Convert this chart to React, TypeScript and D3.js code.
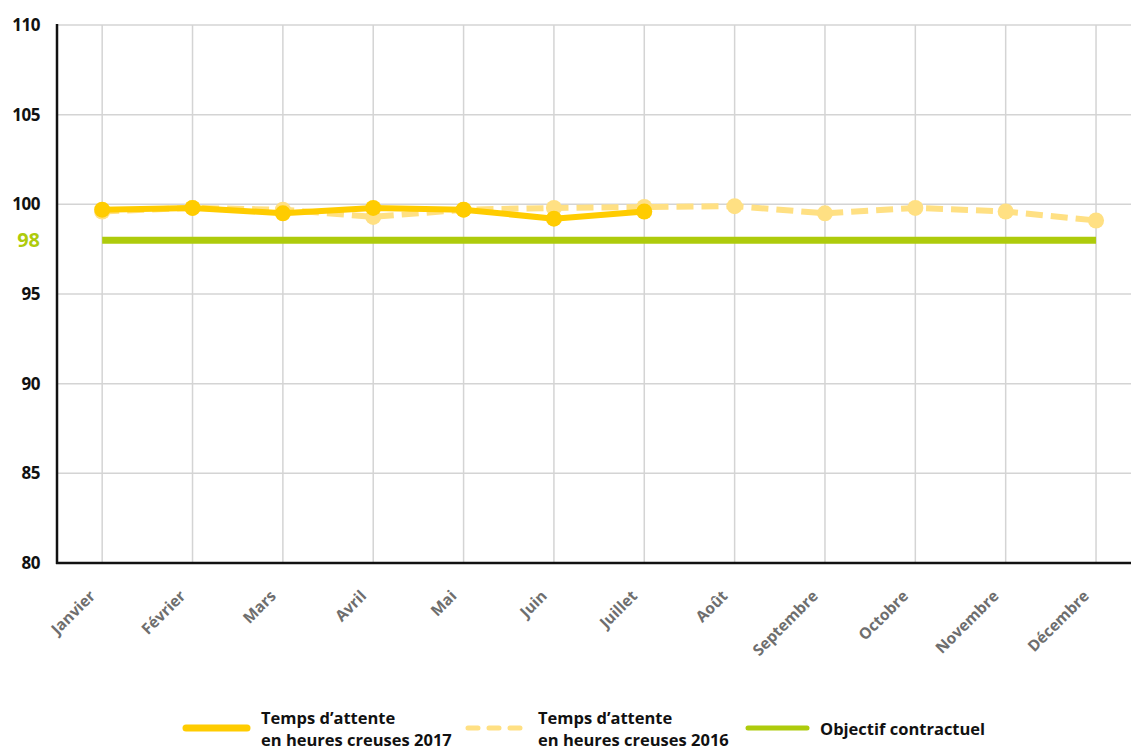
import React from "react";
import * as d3 from "d3";

const months = ["Janvier", "Février", "Mars", "Avril", "Mai", "Juin", "Juillet", "Août", "Septembre", "Octobre", "Novembre", "Décembre"];
const values2017 = [99.7, 99.8, 99.5, 99.8, 99.7, 99.2, 99.6];
const values2016 = [99.6, 99.8, 99.7, 99.3, 99.7, 99.8, 99.85, 99.9, 99.5, 99.8, 99.6, 99.1];
const target = 98;
const yTicks = [80, 85, 90, 95, 100, 105, 110];

const W = 1131, H = 751;
const C2017 = "#FFCC00", C2016 = "#FFE083", CGREEN = "#AECB0C";
const FONT = "'Open Sans', 'DejaVu Sans', sans-serif";

export default function App() {
  const x = d3.scaleBand<string>().domain(months).range([57, 57 + 12 * 90.35]);
  const cx = (m: string) => (x(m) as number) + x.bandwidth() / 2;
  const y = d3.scaleLinear().domain([80, 110]).range([563, 25]);
  const line = d3.line<number>().x((_, i) => cx(months[i])).y((d) => y(d));

  return (
    <svg width={W} height={H} style={{ position: "absolute", left: 0, top: 0, background: "#fff" }}>
      {yTicks.map((t) => (
        <line key={"g" + t} x1={57} x2={W} y1={y(t)} y2={y(t)} stroke="#d4d4d4" strokeWidth={1.5} />
      ))}
      {months.map((m) => (
        <line key={"v" + m} x1={cx(m)} x2={cx(m)} y1={25} y2={563} stroke="#d4d4d4" strokeWidth={1.5} />
      ))}
      <line x1={57} x2={57} y1={24} y2={564} stroke="#111" strokeWidth={2.5} />
      <line x1={56} x2={W} y1={563} y2={563} stroke="#111" strokeWidth={2.5} />
      {yTicks.map((t) => (
        <text key={"t" + t} x={40} y={y(t) + 6} textAnchor="end" fontFamily={FONT} fontWeight={700} fontSize={17} fill="#111" letterSpacing={-0.5}>
          {t}
        </text>
      ))}
      <text x={40} y={y(target) + 7} textAnchor="end" fontFamily={FONT} fontWeight={700} fontSize={20} fill={CGREEN}>
        {target}
      </text>
      {months.map((m) => (
        <text key={"x" + m} transform={`translate(${cx(m) - 6},${597}) rotate(-45)`} textAnchor="end" fontFamily={FONT} fontWeight={700} fontSize={15.5} fill="#6e6e6e">
          {m}
        </text>
      ))}
      <line x1={cx(months[0])} x2={cx(months[11])} y1={y(target)} y2={y(target)} stroke={CGREEN} strokeWidth={7} />
      <path d={line(values2016) || ""} fill="none" stroke={C2016} strokeWidth={6} strokeDasharray="17,8" />
      {values2016.map((v, i) => (
        <circle key={"c16" + i} cx={cx(months[i])} cy={y(v)} r={8} fill={C2016} />
      ))}
      <path d={line(values2017) || ""} fill="none" stroke={C2017} strokeWidth={6} strokeLinejoin="round" />
      {values2017.map((v, i) => (
        <circle key={"c17" + i} cx={cx(months[i])} cy={y(v)} r={8} fill={C2017} />
      ))}
      <g fontFamily={FONT} fontWeight={700} fontSize={16.5} fill="#111">
        <line x1={186} x2={247} y1={728} y2={728} stroke={C2017} strokeWidth={7} strokeLinecap="round" />
        <text x={261} y={724}>Temps d’attente</text>
        <text x={261} y={746}>en heures creuses 2017</text>
        <line x1={468} x2={527} y1={728} y2={728} stroke={C2016} strokeWidth={5} strokeLinecap="round" strokeDasharray="10,11" />
        <text x={538} y={724}>Temps d’attente</text>
        <text x={538} y={746}>en heures creuses 2016</text>
        <line x1={748} x2={807} y1={728} y2={728} stroke={CGREEN} strokeWidth={5} strokeLinecap="round" />
        <text x={820} y={735}>Objectif contractuel</text>
      </g>
    </svg>
  );
}
